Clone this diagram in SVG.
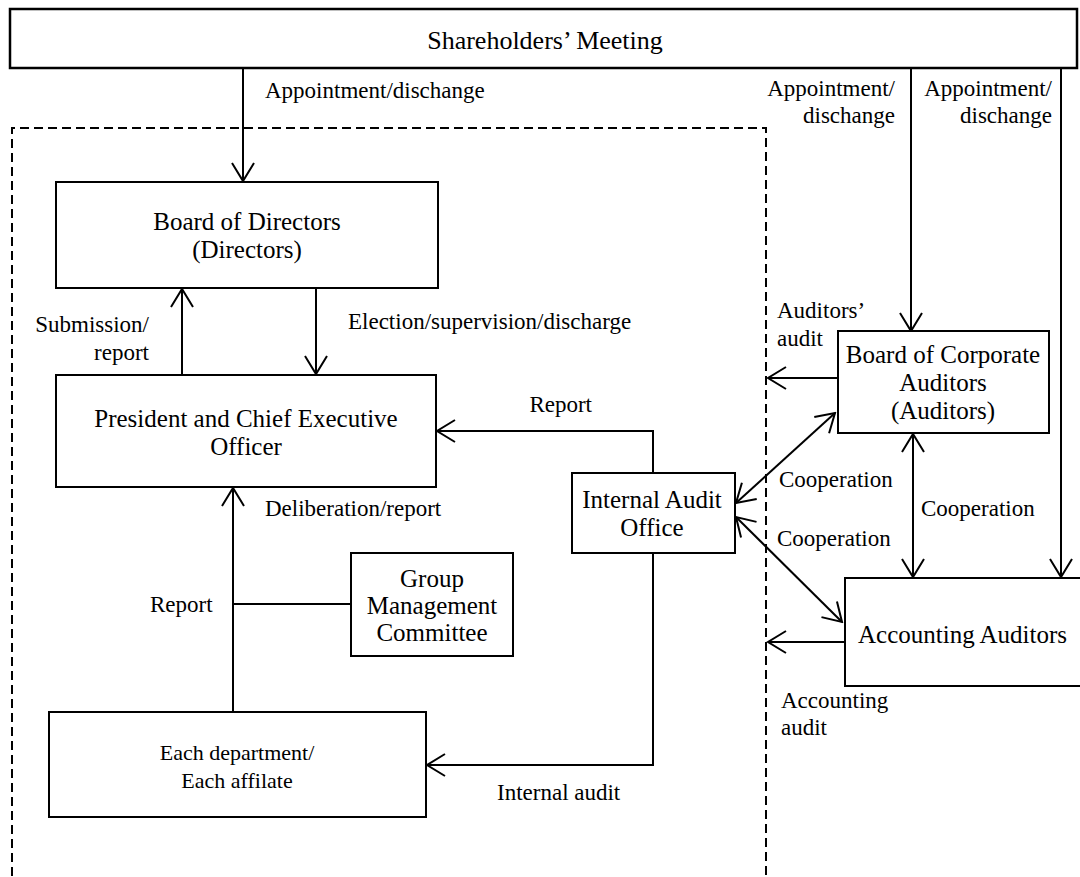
<svg xmlns="http://www.w3.org/2000/svg" width="1080" height="877" viewBox="0 0 1080 877">
<style>
.box{fill:#fff;stroke:#000;stroke-width:2}
.ln{fill:none;stroke:#000;stroke-width:2}
.t{font-family:"Liberation Serif","Times New Roman",serif;font-size:25px;fill:#000}
.lb{font-family:"Liberation Serif","Times New Roman",serif;font-size:23px;fill:#000}
.sm{font-family:"Liberation Serif","Times New Roman",serif;font-size:22px;fill:#000}
.c{text-anchor:middle}
.r{text-anchor:end}
</style>
<defs>
<marker id="ah" markerUnits="userSpaceOnUse" viewBox="-22 -13 24 26" refX="0" refY="0" markerWidth="24" markerHeight="26" orient="auto-start-reverse">
<path d="M-18,-11 L0,0 L-18,11" fill="none" stroke="#000" stroke-width="2"/>
</marker>
</defs>
<rect width="1080" height="877" fill="#fff"/>
<path d="M12,890 V128 H766 V890" fill="none" stroke="#000" stroke-width="2" stroke-dasharray="9,5"/>
<g id="connectors">
<line class="ln" x1="243" y1="68" x2="243" y2="181" marker-end="url(#ah)"/>
<line class="ln" x1="911" y1="68" x2="911" y2="331" marker-end="url(#ah)"/>
<line class="ln" x1="1061" y1="68" x2="1061" y2="577" marker-end="url(#ah)"/>
<line class="ln" x1="182" y1="375" x2="182" y2="289" marker-end="url(#ah)"/>
<line class="ln" x1="316" y1="288" x2="316" y2="374" marker-end="url(#ah)"/>
<polyline class="ln" points="653,473 653,431 437,431" marker-end="url(#ah)"/>
<line class="ln" x1="233" y1="712" x2="233" y2="488" marker-end="url(#ah)"/>
<line class="ln" x1="233" y1="604" x2="351" y2="604"/>
<polyline class="ln" points="653,553 653,765 427,765" marker-end="url(#ah)"/>
<line class="ln" x1="838" y1="378" x2="768" y2="378" marker-end="url(#ah)"/>
<line class="ln" x1="736" y1="503" x2="835" y2="413" marker-start="url(#ah)" marker-end="url(#ah)"/>
<line class="ln" x1="736" y1="517" x2="842" y2="622" marker-start="url(#ah)" marker-end="url(#ah)"/>
<line class="ln" x1="913" y1="434" x2="913" y2="577" marker-start="url(#ah)" marker-end="url(#ah)"/>
<line class="ln" x1="845" y1="642" x2="768" y2="642" marker-end="url(#ah)"/>
</g>
<g id="shareholders">
<rect x="10" y="9" width="1067" height="59" fill="#fff" stroke="#000" stroke-width="2.5"/>
<text class="t c" x="545" y="49" style="font-size:26px">Shareholders’ Meeting</text>
</g>
<g id="board-of-directors">
<rect class="box" x="56" y="182" width="382" height="106"/>
<text class="t c" x="247" y="230">Board of Directors</text>
<text class="t c" x="247" y="258">(Directors)</text>
</g>
<g id="president">
<rect class="box" x="56" y="375" width="380" height="112"/>
<text class="t c" x="246" y="427">President and Chief Executive</text>
<text class="t c" x="246" y="455">Officer</text>
</g>
<g id="internal-audit-office">
<rect class="box" x="572" y="473" width="163" height="80"/>
<text class="t c" x="652" y="508">Internal Audit</text>
<text class="t c" x="652" y="536">Office</text>
</g>
<g id="group-management-committee">
<rect class="box" x="351" y="553" width="162" height="103"/>
<text class="t c" x="432" y="587">Group</text>
<text class="t c" x="432" y="614">Management</text>
<text class="t c" x="432" y="641">Committee</text>
</g>
<g id="each-department">
<rect class="box" x="49" y="712" width="377" height="105"/>
<text class="sm c" x="237" y="760">Each department/</text>
<text class="sm c" x="237" y="788">Each affilate</text>
</g>
<g id="board-of-corporate-auditors">
<rect class="box" x="838" y="331" width="211" height="102"/>
<text class="t c" x="943" y="363">Board of Corporate</text>
<text class="t c" x="943" y="391">Auditors</text>
<text class="t c" x="943" y="419">(Auditors)</text>
</g>
<g id="accounting-auditors">
<rect class="box" x="845" y="578" width="245" height="108"/>
<text class="t" x="858" y="643">Accounting Auditors</text>
</g>
<g id="labels">
<text class="lb" x="265" y="98">Appointment/dischange</text>
<text class="lb r" x="895" y="96">Appointment/</text>
<text class="lb r" x="895" y="123">dischange</text>
<text class="lb r" x="1052" y="96">Appointment/</text>
<text class="lb r" x="1052" y="123">dischange</text>
<text class="lb r" x="149" y="332">Submission/</text>
<text class="lb r" x="149" y="360">report</text>
<text class="lb" x="348" y="329">Election/supervision/discharge</text>
<text class="lb r" x="592" y="412">Report</text>
<text class="lb" x="265" y="516">Deliberation/report</text>
<text class="lb" x="150" y="612">Report</text>
<text class="lb" x="497" y="800">Internal audit</text>
<text class="lb" x="777" y="318">Auditors’</text>
<text class="lb" x="777" y="346">audit</text>
<text class="lb" x="779" y="487">Cooperation</text>
<text class="lb" x="921" y="516">Cooperation</text>
<text class="lb" x="777" y="546">Cooperation</text>
<text class="lb" x="781" y="708">Accounting</text>
<text class="lb" x="781" y="735">audit</text>
</g>
</svg>
